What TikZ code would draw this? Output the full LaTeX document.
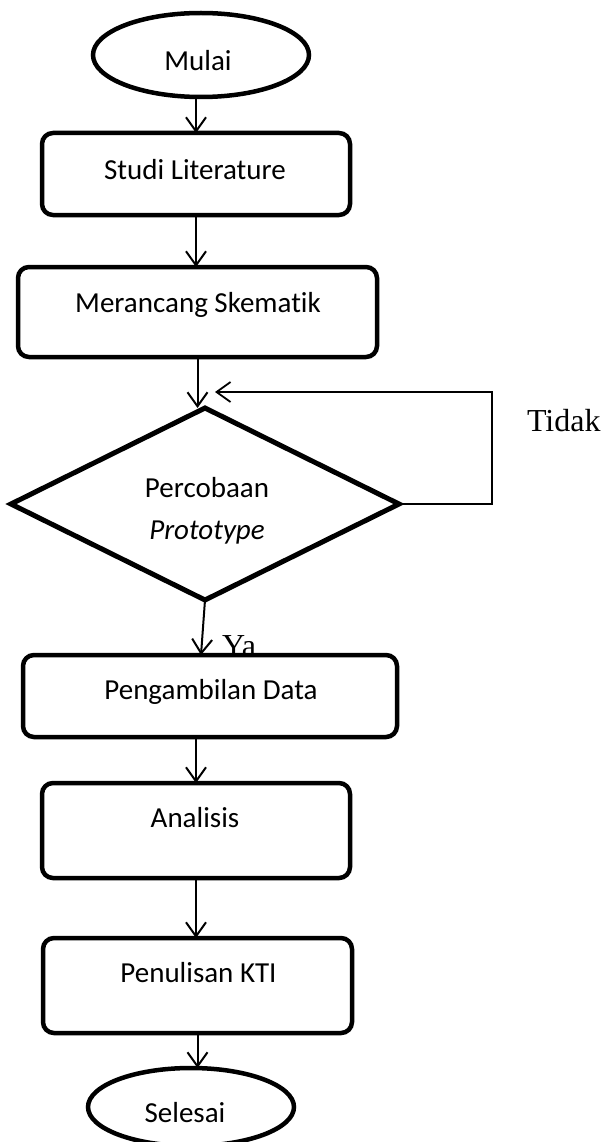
\documentclass[tikz,border=0pt]{standalone}
\usepackage{fontspec}
\setmainfont{Carlito}[Ligatures=NoCommon]
\newfontfamily\serifrm{Liberation Serif}
\usetikzlibrary{shapes.geometric,arrows.meta}
\begin{document}
\begin{tikzpicture}[x=1pt,y=-1pt,
  every node/.style={inner sep=0pt,outer sep=0pt},
  lbl/.style={font=\fontsize{29}{42}\selectfont,align=center},
  flowbox/.style={draw,line width=4.5pt,rounded corners=11pt,fill=white},
  terminal/.style={draw,ellipse,line width=4.5pt,fill=white},
  decision/.style={draw,diamond,aspect=2,line width=5pt,fill=white},
  flow/.style={line width=2pt,-{Straight Barb[length=14pt,width=20pt]}},
  loopline/.style={line width=1.8pt,-{Straight Barb[length=14pt,width=20pt]}},
  answer/.style={font=\serifrm\fontsize{32}{38}\selectfont}]
\useasboundingbox (0,0) rectangle (605,1142);

% start
\node[terminal,minimum width=216pt,minimum height=84pt] (mul) at (201,55) {};
\node[lbl,anchor=base] (mulT) at (198,71) {Mulai};

% process steps
\node[flowbox,minimum width=308pt,minimum height=82pt] (stu) at (196,174) {};
\node[lbl,anchor=base] (stuT) at (195,179) {Studi Literature};

\node[flowbox,minimum width=359pt,minimum height=90pt] (mer) at (197.5,312) {};
\node[lbl,anchor=base] (merT) at (198,312) {Merancang Skematik};

% decision
\node[decision,minimum width=388pt,minimum height=192pt] (dia) at (205,504) {};
\node[lbl] (diaT) at (207,511) {Percobaan\\\textit{Prototype}};

% branch labels
\node[answer,anchor=base west] (tidak) at (527,431) {Tidak};
\node[answer,anchor=base west] (ya) at (222,656) {Ya};

\node[flowbox,minimum width=374pt,minimum height=82pt] (peng) at (210,696) {};
\node[lbl,anchor=base] (pengT) at (211,699) {Pengambilan Data};

\node[flowbox,minimum width=308pt,minimum height=95pt] (ana) at (196,830.5) {};
\node[lbl,anchor=base] (anaT) at (195,827) {Analisis};

\node[flowbox,minimum width=309pt,minimum height=95pt] (pen) at (197.5,985.5) {};
\node[lbl,anchor=base] (penT) at (198.5,982) {Penulisan KTI};

% end
\node[terminal,minimum width=206pt,minimum height=78pt] (sel) at (191,1107) {};
\node[lbl,anchor=base] (selT) at (185,1122) {Selesai};

% connectors
\coordinate (yaend) at (201,655);
\coordinate (fbtop) at (492,392);
\coordinate (fbend) at (215,392);

\draw[flow] (stu.north |- mul.south) -- (stu.north);
\draw[flow] (stu.south) -- (stu.south |- mer.north);
\draw[flow] (mer.south) -- (mer.south |- dia.north);
\draw[loopline] (dia.east) -| (fbtop) -- (fbend);
\draw[flow] (dia.south) -- (yaend);
\draw[flow] (ana.north |- peng.south) -- (ana.north);
\draw[flow] (ana.south) -- (ana.south |- pen.north);
\draw[flow] (pen.south) -- (pen.south |- sel.north);
\end{tikzpicture}
\end{document}
